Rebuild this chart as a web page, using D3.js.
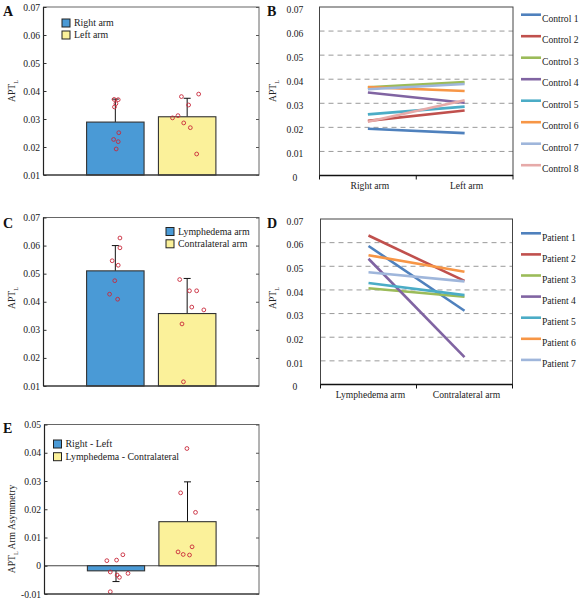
<!DOCTYPE html>
<html><head><meta charset="utf-8">
<script src="https://cdn.jsdelivr.net/npm/d3@7"></script>
<style>
body{margin:0;background:#fff}
svg{display:block}
</style>
</head><body>
<svg id="chart" width="582" height="600"></svg>
<script>
// ---------------- DATA ----------------
const controlArms = ["Right arm", "Left arm"];
const patientArms = ["Lymphedema arm", "Contralateral arm"];
const asymCategories = ["Right - Left", "Lymphedema - Contralateral"];

// Panel A (controls, bar means + upper SD)
const controlMeans = [0.0289, 0.0308];
const controlSD = [0.0082, 0.0066];
const controlRightDots = [0.0370, 0.0369, 0.0355, 0.0343, 0.0251, 0.0227, 0.0219, 0.0193];
const controlLeftDots  = [0.0380, 0.0389, 0.0350, 0.0312, 0.0304, 0.0286, 0.0269, 0.0175];
const controlRightJitter = [-0.04, 0.10, 0.02, -0.03, 0.12, -0.06, 0.10, 0.03];
const controlLeftJitter  = [-0.20, 0.40, 0.05, -0.32, -0.51, -0.12, 0.11, 0.33];

// Panel B (individual controls)
const controlNames = ["Control 1","Control 2","Control 3","Control 4","Control 5","Control 6","Control 7","Control 8"];
const controlRight = [0.0194, 0.0227, 0.0366, 0.0345, 0.0254, 0.0367, 0.0358, 0.0223];
const controlLeft  = [0.0176, 0.0270, 0.0388, 0.0302, 0.0286, 0.0351, 0.0380, 0.0313];

// Panel C (patients, bar means + upper SD)
const patientMeans = [0.0510, 0.0358];
const patientSD = [0.0090, 0.0125];
const lymphDots  = [0.0627, 0.0592, 0.0546, 0.0530, 0.0475, 0.0427, 0.0409];
const contraDots = [0.0479, 0.0439, 0.0439, 0.0381, 0.0371, 0.0321, 0.0115];
const lymphJitter  = [0.16, 0.16, -0.11, 0.10, -0.02, -0.20, 0.08];
const contraJitter = [-0.26, 0.08, 0.33, 0.16, 0.58, -0.18, -0.13];

// Panel D (individual patients)
const patientNames = ["Patient 1","Patient 2","Patient 3","Patient 4","Patient 5","Patient 6","Patient 7"];
const patientLymph  = [0.0586, 0.0630, 0.0407, 0.0532, 0.0429, 0.0547, 0.0475];
const patientContra = [0.0312, 0.0438, 0.0371, 0.0116, 0.0378, 0.0477, 0.0436];

// Panel E (asymmetry)
const asymMeans = [-0.0018, 0.0156];
const asymSD = [0.0038, 0.0141];
const asymControlDots = [0.0018, 0.0020, 0.0039, -0.0022, -0.0033, -0.0041, -0.0027, -0.0092];
const asymPatientDots = [0.0415, 0.0258, 0.0189, 0.0067, 0.0049, 0.0040, 0.0038];
const asymControlJitter = [-0.32, 0.02, 0.24, -0.20, 0.04, 0.12, 0.42, -0.20];
const asymPatientJitter = [-0.02, -0.24, 0.28, 0.16, -0.33, -0.15, 0.07];

// Tick values
const barTicksAC = [0.01, 0.02, 0.03, 0.04, 0.05, 0.06, 0.07];
const lineTicks = [0, 0.01, 0.02, 0.03, 0.04, 0.05, 0.06, 0.07];
const asymTicks = [-0.01, 0, 0.01, 0.02, 0.03, 0.04, 0.05];

// ---------------- STYLE ----------------
const FONT = "'Liberation Serif', 'Times New Roman', serif";
const FS = 9.6;
const barColors = ["#4a9ad6", "#fbf19a"];
const lineColors = ["#4f81bd","#c0504d","#9bbb59","#8064a2","#4bacc6","#f79646","#9fb6db","#e6aaa9"];
const dotColor = "#c8283a";
const fmt = d => d === 0 ? "0" : d.toFixed(2);

const svg = d3.select("#chart");

function txt(sel) {
  return sel.style("font-family", FONT).style("fill", "#222");
}

function letter(t, x, y) {
  txt(svg.append("text")).attr("x", x).attr("y", y).attr("font-size", 14)
    .attr("font-weight", "bold").style("fill", "#111").text(t);
}

function yLabel(x, y, main, rest) {
  const t = txt(svg.append("text")).attr("transform", `translate(${x},${y}) rotate(-90)`)
    .attr("text-anchor", "middle").attr("font-size", FS);
  t.append("tspan").text(main);
  t.append("tspan").attr("font-size", 6).attr("dy", 3).text("L");
  if (rest) t.append("tspan").attr("dy", -3).text(" " + rest);
}

function barPanel(o) {
  const g = svg.append("g");
  const x = d3.scalePoint().domain(o.cats).range([o.x0, o.x1]).padding(1);
  const y = d3.scaleLinear().domain(o.domain).range([o.y1, o.y0]);
  const bw = x.step() * 0.8;
  const base = y(Math.max(0, o.domain[0]));

  if (o.zero) {
    g.append("line").attr("x1", o.x0).attr("x2", o.x1).attr("y1", y(0)).attr("y2", y(0))
      .attr("stroke", "#444").attr("stroke-width", 1);
  }
  // error bars
  o.means.forEach((m, i) => {
    const cx = x(o.cats[i]);
    const end = m >= 0 ? m + o.sd[i] : m - o.sd[i];
    g.append("line").attr("x1", cx).attr("x2", cx).attr("y1", y(m)).attr("y2", y(end))
      .attr("stroke", "#111").attr("stroke-width", 1);
    g.append("line").attr("x1", cx - 3.5).attr("x2", cx + 3.5).attr("y1", y(end)).attr("y2", y(end))
      .attr("stroke", "#111").attr("stroke-width", 1);
  });
  // bars
  g.selectAll("rect.bar").data(o.means).join("rect").attr("class", "bar")
    .attr("x", (d, i) => x(o.cats[i]) - bw / 2)
    .attr("width", bw)
    .attr("y", d => Math.min(y(d), base))
    .attr("height", d => Math.abs(base - y(d)))
    .attr("fill", (d, i) => barColors[i])
    .attr("stroke", "#333").attr("stroke-width", 1.1);
  // dots
  o.dots.forEach((arr, k) => {
    g.selectAll(null).data(arr).join("circle")
      .attr("cx", (d, i) => x(o.cats[k]) + o.jit[k][i] * bw / 2)
      .attr("cy", d => y(d))
      .attr("r", 1.9).attr("fill", "none").attr("stroke", dotColor).attr("stroke-width", 0.9);
  });
  // frame
  g.append("rect").attr("x", o.x0).attr("y", o.y0).attr("width", o.x1 - o.x0).attr("height", o.y1 - o.y0)
    .attr("fill", "none").attr("stroke", "#666").attr("stroke-width", 1);
  g.append("line").attr("x1", o.x0).attr("x2", o.x1).attr("y1", o.y1).attr("y2", o.y1)
    .attr("stroke", "#222").attr("stroke-width", 1.2);
  g.append("line").attr("x1", o.x0).attr("x2", o.x0).attr("y1", o.y0).attr("y2", o.y1)
    .attr("stroke", "#222").attr("stroke-width", 1.2);
  // axes
  const ax = g.append("g").attr("transform", `translate(${o.x0},0)`)
    .call(d3.axisLeft(y).tickValues(o.ticks).tickFormat(fmt).tickSizeInner(-3).tickSizeOuter(0).tickPadding(3.5));
  ax.select(".domain").remove();
  ax.selectAll("line").attr("stroke", "#333");
  txt(ax.selectAll("text")).attr("font-size", FS);
  const axr = g.append("g").attr("transform", `translate(${o.x1},0)`)
    .call(d3.axisRight(y).tickValues(o.ticks).tickFormat("").tickSizeInner(-3).tickSizeOuter(0));
  axr.select(".domain").remove();
  axr.selectAll("line").attr("stroke", "#555");
  // legend
  o.legend.labels.forEach((lab, i) => {
    const cy = o.legend.y + i * o.legend.dy;
    g.append("rect").attr("x", o.legend.x).attr("y", cy - 4).attr("width", 8).attr("height", 8)
      .attr("fill", barColors[i]).attr("stroke", "#222").attr("stroke-width", 1);
    txt(g.append("text")).attr("x", o.legend.x + 12).attr("y", cy).attr("dy", "0.34em")
      .attr("font-size", FS + 0.3).text(lab);
  });
}

function linePanel(o) {
  const g = svg.append("g");
  const x = d3.scaleBand().domain(o.cats).range([o.x0, o.x1]);
  const y = d3.scaleLinear().domain([0, 0.07]).range([o.y1, o.y0]);
  // grid
  g.selectAll("line.grid").data(lineTicks.filter(t => t > 0 && t < 0.07)).join("line")
    .attr("x1", o.x0).attr("x2", o.x1).attr("y1", d => y(d)).attr("y2", d => y(d))
    .attr("stroke", "#9a9a9a").attr("stroke-width", 1).attr("stroke-dasharray", "5,4");
  // frame
  g.append("rect").attr("x", o.x0).attr("y", o.y0).attr("width", o.x1 - o.x0).attr("height", o.y1 - o.y0)
    .attr("fill", "none").attr("stroke", "#444").attr("stroke-width", 1);
  g.append("line").attr("x1", o.x0).attr("x2", o.x1).attr("y1", o.y1).attr("y2", o.y1)
    .attr("stroke", "#111").attr("stroke-width", 1.6);
  // x ticks (band edges)
  const edges = [o.x0, ...o.cats.map(c => x(c) + x.bandwidth())];
  g.selectAll("line.xt").data(edges).join("line")
    .attr("x1", d => d).attr("x2", d => d).attr("y1", o.y1).attr("y2", o.y1 + 4)
    .attr("stroke", "#111").attr("stroke-width", 1);
  txt(g.selectAll("text.xl").data(o.cats).join("text"))
    .attr("x", d => x(d) + x.bandwidth() / 2 + 2).attr("y", o.y1 + 13)
    .attr("text-anchor", "middle").attr("font-size", FS).text(d => d);
  // y labels
  txt(g.selectAll("text.yl").data(lineTicks).join("text"))
    .attr("x", o.labelX).attr("y", d => y(d) + 2.5).attr("dy", "0.34em")
    .attr("text-anchor", "middle").attr("font-size", FS).text(fmt);
  // lines
  const line = d3.line().x(d => x(d.c) + x.bandwidth() / 2).y(d => y(d.v));
  o.names.forEach((n, i) => {
    g.append("path").datum([{c: o.cats[0], v: o.a[i]}, {c: o.cats[1], v: o.b[i]}])
      .attr("d", line).attr("fill", "none").attr("stroke", lineColors[i])
      .attr("stroke-width", 2.6).attr("stroke-linecap", "butt");
  });
  // legend
  o.names.forEach((n, i) => {
    const ly = o.legY + i * o.legDy;
    g.append("line").attr("x1", 521).attr("x2", 541).attr("y1", ly).attr("y2", ly)
      .attr("stroke", lineColors[i]).attr("stroke-width", 2.6);
    txt(g.append("text")).attr("x", 542).attr("y", ly + 4).attr("dy", "0.34em")
      .attr("font-size", FS).text(n);
  });
}

// ---------------- PANELS ----------------
barPanel({
  cats: controlArms, x0: 43.5, x1: 259, y0: 7, y1: 175, domain: [0.01, 0.07], ticks: barTicksAC,
  means: controlMeans, sd: controlSD,
  dots: [controlRightDots, controlLeftDots], jit: [controlRightJitter, controlLeftJitter],
  legend: {x: 62, y: 23, dy: 12, labels: controlArms}
});
letter("A", 3, 16);
yLabel(15, 91, "APT");

linePanel({
  cats: controlArms, names: controlNames, a: controlRight, b: controlLeft,
  x0: 319.5, x1: 513, y0: 7, y1: 175.5, labelX: 295, legY: 14.7, legDy: 21.5
});
letter("B", 267, 16);
yLabel(276, 91, "APT");

barPanel({
  cats: patientArms, x0: 43.5, x1: 259, y0: 217.5, y1: 386, domain: [0.01, 0.07], ticks: barTicksAC,
  means: patientMeans, sd: patientSD,
  dots: [lymphDots, contraDots], jit: [lymphJitter, contraJitter],
  legend: {x: 166, y: 231.5, dy: 12.3, labels: patientArms}
});
letter("C", 3, 228);
yLabel(15, 298, "APT");

linePanel({
  cats: patientArms, names: patientNames, a: patientLymph, b: patientContra,
  x0: 320.5, x1: 512.5, y0: 219, y1: 384.5, labelX: 295, legY: 233.3, legDy: 21.1
});
letter("D", 267, 228);
yLabel(276, 298, "APT");

barPanel({
  cats: asymCategories, x0: 44.5, x1: 259, y0: 424.5, y1: 594, domain: [-0.01, 0.05], ticks: asymTicks,
  means: asymMeans, sd: asymSD, zero: true,
  dots: [asymControlDots, asymPatientDots], jit: [asymControlJitter, asymPatientJitter],
  legend: {x: 53.5, y: 444, dy: 12.7, labels: asymCategories}
});
letter("E", 3, 433);
yLabel(15, 529, "APT", "Arm Asymmetry");
</script>
</body></html>
